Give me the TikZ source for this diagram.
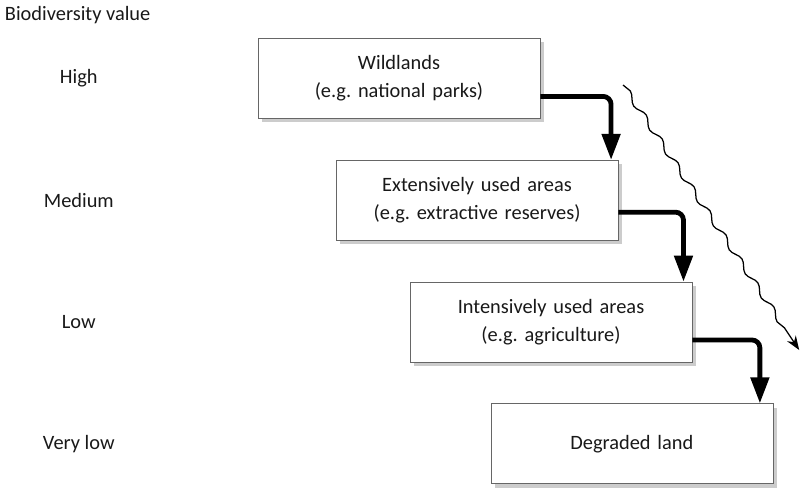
\documentclass[tikz,border=0pt]{standalone}
\usepackage{fontspec}
\setmainfont{Carlito}
\usetikzlibrary{arrows.meta, positioning, shadows, decorations.pathmorphing}
\frenchspacing

\begin{document}
\begin{tikzpicture}[node distance=1.03cm and 0cm, font=\fontsize{14.5}{20}\selectfont]
    \tikzset{
        block/.style = {rectangle, draw=black!60, fill=white, text width=6.8cm, align=center, minimum width=7.05cm, minimum height=2cm, inner sep=0pt, text=black!90, drop shadow={shadow xshift=0.1cm, shadow yshift=-0.1cm, fill=black!20, opacity=1}},
        level/.style = {text=black!90},
        line/.style = {draw, line width=0.12cm, rounded corners=0.2cm, -{Triangle[length=0.65cm, width=0.45cm]}},
        trend/.style = {draw, line width=0.9pt, decorate, decoration={snake, amplitude=0.07cm, segment length=0.72cm, post length=0.35cm}, -{Stealth[length=0.35cm, width=0.26cm]}}
    }
    \useasboundingbox (0,0) rectangle (20,-12.2);
    \node[block] (wild) at (9.975,-1.96) {Wildlands\\(e.g. national parks)};
    \node[block, below=of wild, xshift=1.95cm] (extensive) {Extensively used areas\\(e.g. extractive reserves)};
    \node[block, below=of extensive, xshift=1.85cm] (intensive) {Intensively used areas\\(e.g. agriculture)};
    \node[block, below=of intensive, xshift=2.02cm] (degraded) {Degraded land};

    \coordinate (axis) at (1.97,0);
    \node[level, anchor=west] (title) at (0,-0.375) {Biodiversity value};
    \node[level] (high) at (axis |- wild) {High};
    \node[level] (medium) at (axis |- extensive) {Medium};
    \node[level] (low) at (axis |- intensive) {Low};
    \node[level] (verylow) at (axis |- degraded) {Very low};

    \path[line] ([yshift=-0.45cm]wild.east) -| ([xshift=-0.18cm]extensive.north east);
    \path[line] ([yshift=-0.3cm]extensive.east) -| ([xshift=-0.22cm]intensive.north east);
    \path[line] ([yshift=-0.45cm]intensive.east) -| ([xshift=-0.33cm]degraded.north east);

    \coordinate (trendstart) at (15.575,-2.125);
    \coordinate (trendend) at (19.98,-8.75);
    \path[trend] (trendstart) -- (trendend);
\end{tikzpicture}
\end{document}
